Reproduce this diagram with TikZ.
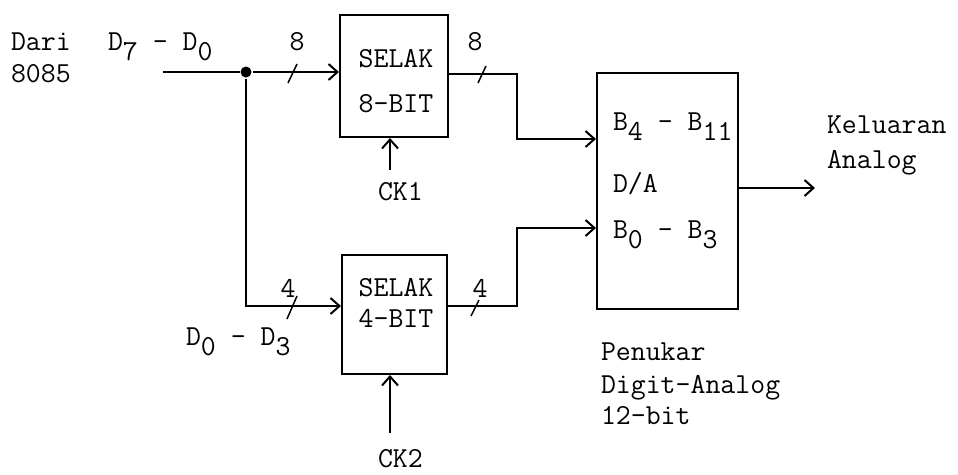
\documentclass[tikz,border=0pt]{standalone}
\usepackage{fontspec}
\usetikzlibrary{arrows.meta}
\newcommand\lowr[1]{\raisebox{-.35em}{#1}}
\begin{document}
\begin{tikzpicture}[>={Straight Barb[length=9pt,width=16pt]}, x=1pt, y=-1pt, line width=2pt,
txt/.style={inner sep=0pt, anchor=base west, font=\fontsize{29}{32}\ttfamily},
mid/.style={txt, anchor=base},
blok/.style={draw, inner sep=0pt}]
\useasboundingbox (0,0) rectangle (958,474);
\node[blok, minimum width=108, minimum height=122](sel8) at (394,76){};
\node[blok, minimum width=105, minimum height=119](sel4) at (394.5,314.5){};
\node[blok, minimum width=141, minimum height=236](da) at (667.5,191){};
\node[txt](dari) at (10,50){Dari};
\node[txt](cpu) at (10,82){8085};
\node[txt](d70) at (107,50){D\lowr{7} - D\lowr{0}};
\node[txt](d03) at (185,345){D\lowr{0} - D\lowr{3}};
\node[mid](s8a) at (396,67){SELAK};
\node[mid](s8b) at (396,112){8-BIT};
\node[mid](s4a) at (396,296){SELAK};
\node[mid](s4b) at (396,327){4-BIT};
\node[txt](ck1) at (377,200){CK1};
\node[txt](ck2) at (377,467){CK2};
\node[mid](n8a) at (297,50){8};
\node[mid](n8b) at (475,50){8};
\node[mid](n4a) at (288,297){4};
\node[mid](n4b) at (480,297){4};
\node[txt](bhi) at (612,130){B\lowr{4} - B\lowr{11}};
\node[txt](dalbl) at (612,192){D/A};
\node[txt](blo) at (612,238){B\lowr{0} - B\lowr{3}};
\node[txt](kel) at (826,133){Keluaran};
\node[txt](ana) at (826,168){Analog};
\node[txt](pen1) at (600,360){Penukar};
\node[txt](pen2) at (600,393){Digit-Analog};
\node[txt](pen3) at (600,424){12-bit};
\node[circle, fill, inner sep=0pt, minimum size=11](dot) at (246,72){};
\coordinate(in) at (163,72);
\coordinate(low) at (246,306);
\coordinate(j8) at (517,74);
\coordinate(j4) at (517,306);
\coordinate(c1) at (390,170);
\coordinate(c2) at (390,433);
\coordinate(uit) at (815,188);
\draw(in)--(dot);
\draw[->](dot)--(dot -| sel8.west);
\draw[->](dot)--(low)--(low -| sel4.west);
\draw[->](sel8.east |- j8)--(j8)|-(da.west |- 0,139);
\draw[->](sel4.east |- j4)--(j4)|-(da.west |- 0,228);
\draw[->](c1)--(c1 |- sel8.south);
\draw[->](c2)--(c2 |- sel4.south);
\draw[->](da.east |- uit)--(uit);
\draw[line width=1.5pt](288,83)--(297,64);
\draw[line width=1.5pt](478,83)--(486,66);
\draw[line width=1.5pt](287,319)--(297,296);
\draw[line width=1.5pt](471,316)--(479,300);
\end{tikzpicture}
\end{document}
